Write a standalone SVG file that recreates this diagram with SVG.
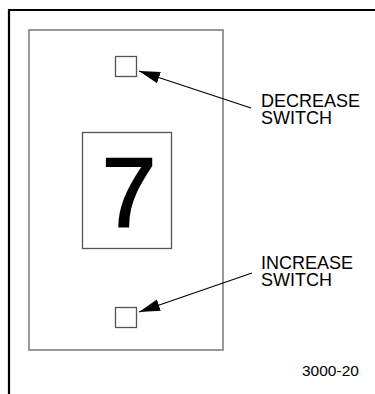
<svg xmlns="http://www.w3.org/2000/svg" width="375" height="394" viewBox="0 0 375 394">
<style>
.lbl{font-family:"Liberation Sans",Arial,sans-serif;font-size:18px;fill:#000}
.box{fill:#fff;stroke:#555;stroke-width:1.3}
.con{stroke:#000;stroke-width:1.2;fill:none}
</style>
<defs>
<marker id="ah" markerUnits="userSpaceOnUse" markerWidth="21" markerHeight="13" refX="21" refY="6.5" orient="auto">
<path d="M0,0.5 L21,6.5 L0,12.5 z" fill="#000"/>
</marker>
</defs>
<rect width="375" height="394" fill="#fff"/>
<g id="frame">
<path d="M9,394 V10 H375" fill="none" stroke="#000" stroke-width="2.2"/>
</g>
<g id="panel">
<rect x="29" y="30" width="194" height="320" fill="#fff" stroke="#777" stroke-width="1.5"/>
</g>
<g id="display">
<rect x="82.5" y="132.5" width="89" height="116" class="box"/>
<text x="129" y="226" font-family="'Liberation Sans',Arial,sans-serif" font-size="98" text-anchor="middle" stroke="#000" stroke-width="1.8">7</text>
</g>
<g id="decrease-switch">
<rect x="115.5" y="56.5" width="21" height="20" class="box"/>
</g>
<g id="increase-switch">
<rect x="115.5" y="307.5" width="21" height="20" class="box"/>
</g>
<g id="connectors">
<line x1="251" y1="108" x2="139" y2="71" class="con" marker-end="url(#ah)"/>
<line x1="252" y1="273" x2="139" y2="312" class="con" marker-end="url(#ah)"/>
</g>
<g id="decrease-label">
<text class="lbl" x="261" y="107">DECREASE<tspan x="261" y="124">SWITCH</tspan></text>
</g>
<g id="increase-label">
<text class="lbl" x="261" y="269">INCREASE<tspan x="261" y="286">SWITCH</tspan></text>
</g>
<g id="figure-number">
<text x="302" y="376" font-family="'Liberation Sans',Arial,sans-serif" font-size="15.5">3000-20</text>
</g>
</svg>
